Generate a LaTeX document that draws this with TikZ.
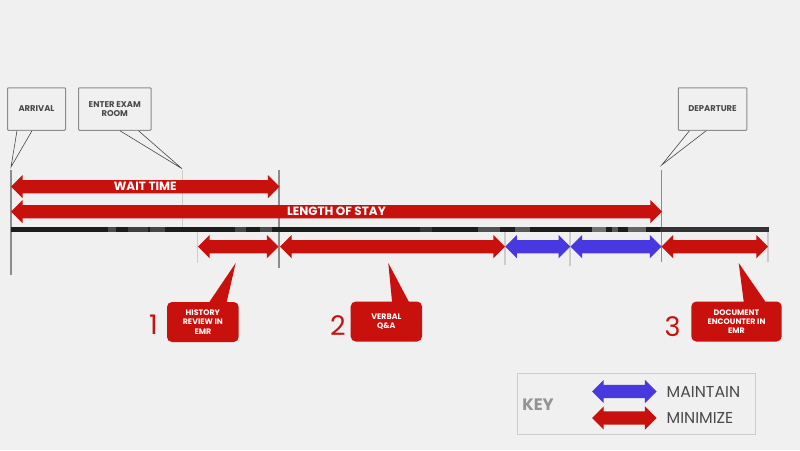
\documentclass[tikz,border=0pt]{standalone}
\usepackage{fontspec}
\setmainfont{Poppins}
\usetikzlibrary{shapes.arrows,calc}
\definecolor{bgc}{HTML}{F0F0F0}
\definecolor{redc}{HTML}{C8100C}
\definecolor{bluec}{HTML}{4838DF}
\definecolor{tickd}{HTML}{8C8C8C}
\definecolor{tickl}{HTML}{CCCCCC}
\definecolor{txtc}{HTML}{4A4A4A}
\definecolor{barc}{HTML}{1C1C1C}
\tikzset{
  dbl/.style={double arrow,double arrow head extend=5pt,inner sep=0pt,text width=0pt,
    text height=6.5pt,text depth=6.5pt,anchor=center},
  redarrow/.style={dbl,fill=redc},
  bluearrow/.style={dbl,fill=bluec},
  arrowlabel/.style={text=white,inner sep=0pt,font=\fontsize{12}{13}\selectfont\bfseries},
  note/.style={draw=gray!90,line width=1pt,fill=bgc,rounded corners=0.8pt,inner sep=0pt,align=center,text=txtc,
    font=\fontsize{8.4}{9.4}\selectfont\bfseries},
  notetail/.style={draw=txtc,line width=0.6pt,fill=bgc},
  redbox/.style={fill=redc,rounded corners=5pt,inner sep=0pt,align=center,text=white,
    font=\fontsize{7.9}{9.3}\selectfont\bfseries},
  tickdark/.style={draw=tickd,line width=1.1pt},
  ticklight/.style={draw=tickl,line width=1.1pt},
  bignum/.style={text=redc,font=\fontsize{27}{29}\selectfont},
  keylabel/.style={text=txtc,anchor=west,inner xsep=0pt,font=\fontsize{15.8}{17}\selectfont}
}
\begin{document}
\begin{tikzpicture}[x=1pt,y=-1pt]
\useasboundingbox (0,0) rectangle (800,450);
\fill[bgc] (0,0) rectangle (800,450);

% ticks
\foreach \n/\x/\a/\b/\s in {a/11/170/275/tickdark, b/182.5/170/227/ticklight, c/279/170/268/tickdark,
  d/197.5/232/263/ticklight, e/505/232/265/ticklight, f/570/232/266/ticklight,
  g/661.5/170/262/tickdark, h/768/232/262/ticklight}{
  \coordinate (t\n1) at (\x,\a);
  \coordinate (t\n2) at (\x,\b);
  \draw[\s] (t\n1) -- (t\n2);
}

% textured bar
\fill[barc] (11,226.5) rectangle (768.7,232);
\foreach \p/\q/\c in {108/116/black!70, 128/148/black!75, 150/165/black!72, 235/246/black!72, 260/272/black!70,
  420/432/black!78, 478/500/black!68, 515/530/black!65, 592/606/black!55, 612/618/black!65, 628/646/black!60}{
  \fill[\c] (\p,226.5) rectangle (\q,232);
}
\fill[black!80] (660,226.5) rectangle (768.7,232);

% arrows
\node[redarrow,minimum height=268.5pt] (wait) at (145.25,186.7) {};
\node[redarrow,minimum height=651pt] (stay) at (336.5,211.7) {};
\node[arrowlabel] (waitl) at (145.25,186.5) {WAIT TIME};
\node[arrowlabel] (stayl) at (336.5,211.5) {LENGTH OF STAY};
\node[redarrow,minimum height=80.5pt] (ar1) at (238.25,246.7) {};
\node[redarrow,minimum height=225pt] (ar2) at (392.5,246.7) {};
\node[bluearrow,minimum height=65pt] (ar3) at (537.75,246.7) {};
\node[bluearrow,minimum height=91pt] (ar4) at (616,246.7) {};
\node[redarrow,minimum height=106.5pt] (ar5) at (714.75,246.7) {};

% note callouts
\node[note,minimum width=58pt,minimum height=42.5pt] (arr) at (36.5,109) {ARRIVAL};
\coordinate (arrtip) at (11,167);
\filldraw[notetail] ($(arr.south west)+(10,0)$) -- (arrtip) -- ($(arr.south west)+(25,0)$);
\node[note,minimum width=72.5pt,minimum height=42.5pt] (ent) at (114.75,109) {ENTER EXAM\\ROOM};
\coordinate (enttip) at (182,168.7);
\filldraw[notetail] ($(ent.south west)+(42,0)$) -- (enttip) -- ($(ent.south west)+(60.5,0)$);
\node[note,minimum width=68.5pt,minimum height=42.5pt] (dep) at (712.5,109) {DEPARTURE};
\coordinate (deptip) at (661.7,165);
\filldraw[notetail] ($(dep.south west)+(11.7,0)$) -- (deptip) -- ($(dep.south west)+(28.4,0)$);

% red callouts
\node[redbox,minimum width=71.7pt,minimum height=40pt] (his) at (202.85,322) {\raisebox{-1pt}{\parbox{71pt}{\centering HISTORY\\REVIEW IN\\EMR}}};
\coordinate (histip) at (235.7,263);
\fill[redc] ($(his.north west)+(42,1)$) -- (histip) -- ($(his.north west)+(59.7,1)$) -- cycle;
\node[redbox,minimum width=71.3pt,minimum height=40pt] (ver) at (386.35,321.5) {VERBAL\\Q\&A};
\coordinate (vertip) at (388.3,263);
\fill[redc] ($(ver.north west)+(41.6,1)$) -- (vertip) -- ($(ver.north west)+(58.6,1)$) -- cycle;
\node[redbox,minimum width=90.4pt,minimum height=40pt] (doc) at (736.5,321.5) {DOCUMENT\\ENCOUNTER IN\\EMR};
\coordinate (doctip) at (738.7,263);
\fill[redc] ($(doc.north west)+(52.7,1)$) -- (doctip) -- ($(doc.north west)+(74.7,1)$) -- cycle;

\node[bignum] (n1) at (153.5,325) {1};
\node[bignum] (n2) at (338,326) {2};
\node[bignum] (n3) at (672.5,326.5) {3};

% key
\node[draw=tickl,line width=1pt,fill=bgc,minimum width=238pt,minimum height=61pt,inner sep=0pt] (key) at (636.5,404) {};
\node[text=gray!85,font=\fontsize{16.5}{18}\selectfont\bfseries] (keyt) at (538,404.5) {KEY};
\node[bluearrow,minimum height=64.5pt] (kb) at (624.25,391.5) {};
\node[redarrow,minimum height=64.5pt] (kr) at (624.25,418) {};
\node[keylabel] (km) at (666.5,391.5) {MAINTAIN};
\node[keylabel] (kn) at (666.5,418) {MINIMIZE};
\end{tikzpicture}
\end{document}
